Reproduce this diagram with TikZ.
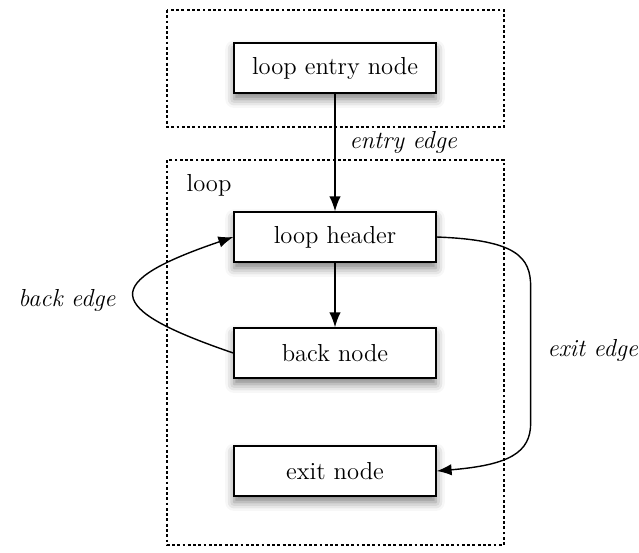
\documentclass[tikz,border=0pt]{standalone}
\usetikzlibrary{arrows.meta,shadows.blur}

\begin{document}
\begin{tikzpicture}[x=0.02cm,y=-0.02cm,line width=0.8pt,>={Latex[length=8.5pt,width=6.5pt]},
  font=\fontsize{14}{17}\selectfont,
  blockbox/.style={draw,fill=white,minimum width=4.04cm,minimum height=1cm,inner sep=0pt,
    blur shadow={shadow xshift=0pt,shadow yshift=-3.5pt,shadow blur radius=5pt,shadow opacity=50}},
  regionbox/.style={line width=1pt,dash pattern=on 1.6pt off 1.4pt},
  edgelabel/.style={font=\fontsize{14}{17}\selectfont\itshape}]
\useasboundingbox (0,0) rectangle (639,552);
% ---------- regions ----------
\draw[regionbox] (167,10) rectangle (504,127);
\draw[regionbox] (167,160) rectangle (504,545);
\node[anchor=west] (looplabel) at (180,185) {loop};
% ---------- nodes ----------
\node[blockbox] (entry)  at (335,68)  {loop entry node};
\node[blockbox] (header) at (335,237) {loop header};
\node[blockbox] (back)   at (335,353) {back node};
\node[blockbox] (exit)   at (335,471) {exit node};
% ---------- edges ----------
\draw[->] (entry.south) -- (header.north);
\draw[->] (header.south) -- (back.north);
\draw[->] (back.west) .. controls +(-132,-45) and +(-132,45) .. (header.west);
\draw[->] (header.east) .. controls +(80,3) and +(0,-30) .. ++(94,50) -- ++(0,136)
  .. controls +(0,30) and +(72,-6) .. (exit.east);
% ---------- labels ----------
\node[edgelabel,anchor=west] (entrylabel) at (343,142) {entry edge};
\node[edgelabel,anchor=east] (backlabel)  at (122,300) {back edge};
\node[edgelabel,anchor=west] (exitlabel)  at (541,350) {exit edge};
\end{tikzpicture}
\end{document}
